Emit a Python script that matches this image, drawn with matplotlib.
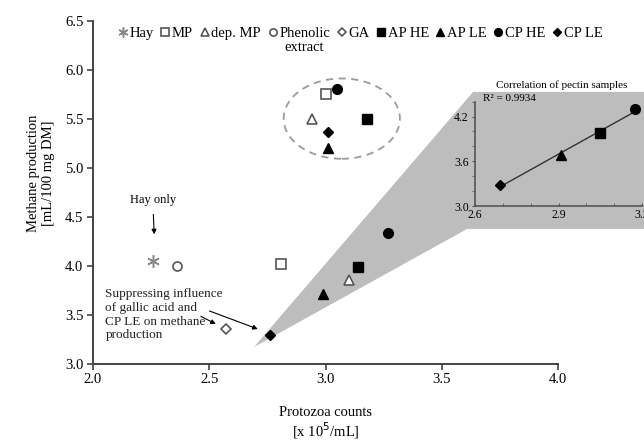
import numpy as np
import matplotlib
matplotlib.use("Agg")
import matplotlib.pyplot as plt
from matplotlib.patches import Ellipse, Polygon
from matplotlib.lines import Line2D
from matplotlib.ticker import MultipleLocator, FormatStrFormatter

plt.rcParams["font.family"] = ["Liberation Serif", "DejaVu Serif"]

# ---- values ----
SAMPLES = ["Hay", "MP", "dep. MP", "Phenolic", "GA", "AP HE", "AP LE", "CP HE", "CP LE"]
protozoa = [2.26, 2.81, 3.10, 2.36, 2.57, 3.14, 2.99, 3.27, 2.76]
methane = [4.05, 4.02, 3.85, 4.00, 3.35, 3.99, 3.71, 4.33, 3.29]

# circled group
circ_names = ["MP", "dep. MP", "AP HE", "AP LE", "CP HE", "CP LE"]
circ_protozoa = [3.00, 2.94, 3.18, 3.01, 3.05, 3.01]
circ_methane = [5.75, 5.50, 5.50, 5.20, 5.80, 5.36]

# inset: pectin samples
pectin_names = ["CP LE", "AP LE", "AP HE", "CP HE"]
pectin_protozoa = [2.69, 2.91, 3.05, 3.175]
pectin_methane = [3.28, 3.69, 3.98, 4.30]
R2_TEXT = "R\u00b2 = 0.9934"

X_TICKS = [2.0, 2.5, 3.0, 3.5, 4.0]
Y_TICKS = [3.0, 3.5, 4.0, 4.5, 5.0, 5.5, 6.0, 6.5]

OPEN_EDGE = "#555555"
STYLE = {
    "Hay":      dict(marker=(6, 2, 0), ms=9, mfc="none", mec="#888888", mew=1.1),
    "MP":       dict(marker="s", ms=6.5, mfc="white", mec=OPEN_EDGE, mew=1.2),
    "dep. MP":  dict(marker="^", ms=7, mfc="white", mec=OPEN_EDGE, mew=1.2),
    "Phenolic": dict(marker="o", ms=6.5, mfc="white", mec=OPEN_EDGE, mew=1.2),
    "GA":       dict(marker="D", ms=5, mfc="white", mec=OPEN_EDGE, mew=1.2),
    "AP HE":    dict(marker="s", ms=6.5, mfc="black", mec="black", mew=1),
    "AP LE":    dict(marker="^", ms=7, mfc="black", mec="black", mew=1),
    "CP HE":    dict(marker="o", ms=7, mfc="black", mec="black", mew=1),
    "CP LE":    dict(marker="D", ms=5, mfc="black", mec="black", mew=1),
}

fig = plt.figure(figsize=(6.44, 4.40), dpi=100)
ax = fig.add_axes([93 / 644, 76.5 / 440, 465 / 644, 342.8 / 440])

# grey wedge leading to the inset (main-axes data coords)
wedge = Polygon([(2.693, 3.169), (3.609, 4.374), (4.38, 4.374),
                 (4.38, 5.773), (3.635, 5.773)],
                closed=True, facecolor="#bdbdbd", edgecolor="none",
                zorder=0, clip_on=False)
ax.add_patch(wedge)

for name, x, y in zip(SAMPLES, protozoa, methane):
    ax.plot([x], [y], linestyle="none", zorder=3, **STYLE[name])
for name, x, y in zip(circ_names, circ_protozoa, circ_methane):
    ax.plot([x], [y], linestyle="none", zorder=3, **STYLE[name])

ell = Ellipse((np.mean([min(circ_protozoa), max(circ_protozoa)]) + 0.01,
               np.mean([min(circ_methane), max(circ_methane)])),
              width=0.50, height=0.82, fill=False, edgecolor="#9a9a9a",
              linestyle=(0, (4, 3)), linewidth=1.3, zorder=2)
ax.add_patch(ell)

ax.set_xlim(2.0, 4.0)
ax.set_ylim(3.0, 6.5)
ax.set_xticks(X_TICKS)
ax.set_yticks(Y_TICKS)
ax.xaxis.set_major_formatter(FormatStrFormatter("%.1f"))
ax.yaxis.set_major_formatter(FormatStrFormatter("%.1f"))
for side in ("top", "right"):
    ax.spines[side].set_visible(False)
for side in ("left", "bottom"):
    ax.spines[side].set_color("#444444")
    ax.spines[side].set_linewidth(1.4)
ax.tick_params(direction="out", length=4, width=1.2, color="#444444",
               labelsize=10.5, pad=3)
ax.patch.set_alpha(0)

ax.text(-0.112, 0.555, "Methane production\n[mL/100 mg DM]", transform=ax.transAxes,
        rotation=90, ha="center", va="center", fontsize=10.5, linespacing=1.25)
ax.text(0.5, -0.1415, "Protozoa counts", transform=ax.transAxes,
        ha="center", va="center", fontsize=10.5)
ax.text(0.5, -0.197, r"[x 10$^{5}$/mL]", transform=ax.transAxes,
        ha="center", va="center", fontsize=10.5)

# annotations
ax.text(2.259, 4.67, "Hay only", ha="center", va="center", fontsize=9)
ax.annotate("", xy=(2.264, 4.29), xytext=(2.259, 4.55),
            arrowprops=dict(arrowstyle="-|>", color="black", lw=0.8,
                            mutation_scale=7))
ax.text(2.053, 3.77, "Suppressing influence\nof gallic acid and\nCP LE on methane\nproduction",
        ha="left", va="top", fontsize=9.5, linespacing=1.2, color="#222222")
ax.annotate("", xy=(2.539, 3.39), xytext=(2.453, 3.495),
            arrowprops=dict(arrowstyle="-|>", color="black", lw=0.8,
                            mutation_scale=7))
ax.annotate("", xy=(2.72, 3.342), xytext=(2.49, 3.546),
            arrowprops=dict(arrowstyle="-|>", color="black", lw=0.8,
                            mutation_scale=7))

# legend
handles = [Line2D([0], [0], linestyle="none", **STYLE[n]) for n in SAMPLES]
leg = ax.legend(handles, SAMPLES, ncol=9, loc="center",
                bbox_to_anchor=(0.575, 0.964), frameon=False, fontsize=10.5,
                handlelength=0.6, handletextpad=0.15, columnspacing=0.5,
                markerscale=0.8, borderaxespad=0, borderpad=0)

fig.canvas.draw()
bb = leg.get_texts()[3].get_window_extent()
fig.text((bb.x0 + bb.x1) / 2 / fig.bbox.width, (bb.y0 - 8) / fig.bbox.height,
         "extract", ha="center", va="center", fontsize=10.5)

# inset: correlation of pectin samples
ins = fig.add_axes([475 / 644, 234 / 440, 167 / 644, 104.3 / 440])
ins.patch.set_alpha(0)
coef = np.polyfit(pectin_protozoa, pectin_methane, 1)
xs = np.array([min(pectin_protozoa), max(pectin_protozoa)])
ins.plot(xs, np.polyval(coef, xs), color="#333333", lw=1.0, zorder=2)
for name, x, y in zip(pectin_names, pectin_protozoa, pectin_methane):
    ins.plot([x], [y], linestyle="none", zorder=3, **STYLE[name])
ins.set_xlim(2.6, 3.2)
ins.set_ylim(3.0, 4.4)
ins.set_xticks([2.6, 2.9, 3.2])
ins.set_yticks([3.0, 3.6, 4.2])
ins.xaxis.set_minor_locator(MultipleLocator(0.1))
ins.yaxis.set_minor_locator(MultipleLocator(0.2))
ins.xaxis.set_major_formatter(FormatStrFormatter("%.1f"))
ins.yaxis.set_major_formatter(FormatStrFormatter("%.1f"))
for side in ("top", "right"):
    ins.spines[side].set_visible(False)
for side in ("left", "bottom"):
    ins.spines[side].set_color("#555555")
    ins.spines[side].set_linewidth(1.2)
ins.tick_params(axis="both", which="both", color="#555555", labelsize=8.5, pad=2)
ins.tick_params(axis="x", which="both", direction="in", length=2.5)
ins.tick_params(axis="y", which="both", direction="out", length=2.5)
ins.text(0.52, 1.16, "Correlation of pectin samples", transform=ins.transAxes,
         ha="center", va="center", fontsize=8)
ins.text(0.05, 1.03, R2_TEXT, transform=ins.transAxes,
         ha="left", va="center", fontsize=8)

fig.savefig("out.png", dpi=100)
